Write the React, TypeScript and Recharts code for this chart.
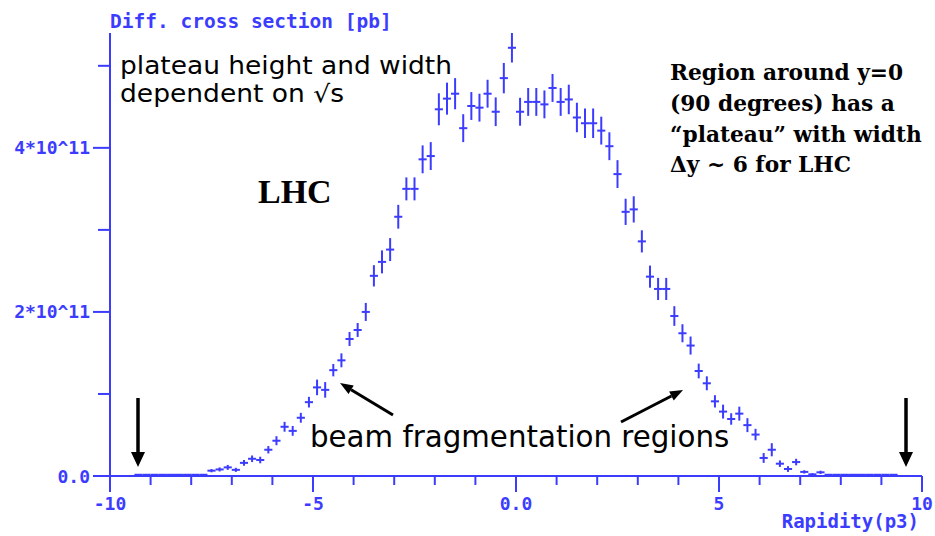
import React from 'react';
import { ScatterChart, Scatter, XAxis, YAxis, ErrorBar } from 'recharts';

// Differential cross section vs rapidity, 0.2-wide bins, values in units of 1e11 pb.
const BIN_WIDTH = 0.2;

const RAPIDITY = [
  -9.3, -9.1, -8.9, -8.7, -8.5, -8.3, -8.1, -7.9, -7.7,
  -7.5, -7.3, -7.1, -6.9, -6.7, -6.5, -6.3, -6.1, -5.9, -5.7,
  -5.5, -5.3, -5.1, -4.9, -4.7, -4.5, -4.3, -4.1, -3.9, -3.7,
  -3.5, -3.3, -3.1, -2.9, -2.7, -2.5, -2.3, -2.1, -1.9, -1.7,
  -1.5, -1.3, -1.1, -0.9, -0.7, -0.5, -0.3, -0.1,
  0.1, 0.3, 0.5, 0.7, 0.9, 1.1, 1.3, 1.5, 1.7, 1.9,
  2.1, 2.3, 2.5, 2.7, 2.9, 3.1, 3.3, 3.5, 3.7, 3.9,
  4.1, 4.3, 4.5, 4.7, 4.9, 5.1, 5.3, 5.5, 5.7, 5.9,
  6.1, 6.3, 6.5, 6.7, 6.9, 7.1, 7.3, 7.5,
  7.7, 7.9, 8.1, 8.3, 8.5, 8.7, 8.9, 9.1, 9.3,
];

const XSEC = [
  0.015, 0.015, 0.015, 0.015, 0.015, 0.015, 0.015, 0.015, 0.015,
  0.065, 0.08, 0.105, 0.075, 0.16, 0.21, 0.195, 0.32, 0.43, 0.6,
  0.55, 0.71, 0.9, 1.08, 1.05, 1.29, 1.41, 1.67, 1.78, 2.0,
  2.44, 2.61, 2.76, 3.16, 3.5, 3.5, 3.86, 3.9, 4.47, 4.6,
  4.66, 4.24, 4.51, 4.49, 4.66, 4.44, 4.85, 5.22,
  4.44, 4.56, 4.56, 4.53, 4.73, 4.56, 4.59, 4.37, 4.3, 4.3,
  4.21, 4.02, 3.68, 3.22, 3.25, 2.86, 2.43, 2.28, 2.28, 1.95,
  1.74, 1.59, 1.28, 1.13, 0.91, 0.785, 0.695, 0.76, 0.62, 0.505,
  0.22, 0.32, 0.15, 0.085, 0.17, 0.05, 0.02, 0.045,
  0.015, 0.015, 0.015, 0.015, 0.015, 0.015, 0.015, 0.015, 0.015,
];

const XSEC_ERR = [
  0, 0, 0, 0, 0, 0, 0, 0, 0,
  0.02, 0.025, 0.03, 0.025, 0.035, 0.04, 0.04, 0.045, 0.055, 0.06,
  0.06, 0.06, 0.065, 0.095, 0.095, 0.075, 0.085, 0.085, 0.085, 0.11,
  0.13, 0.14, 0.14, 0.145, 0.14, 0.14, 0.17, 0.17, 0.195, 0.195,
  0.19, 0.17, 0.17, 0.17, 0.17, 0.175, 0.185, 0.18,
  0.17, 0.17, 0.17, 0.17, 0.17, 0.17, 0.18, 0.18, 0.18, 0.18,
  0.17, 0.17, 0.17, 0.16, 0.16, 0.135, 0.135, 0.135, 0.135, 0.12,
  0.11, 0.11, 0.09, 0.085, 0.075, 0.085, 0.07, 0.085, 0.085, 0.07,
  0.06, 0.08, 0.04, 0.035, 0.04, 0.02, 0.015, 0.02,
  0, 0, 0, 0, 0, 0, 0, 0, 0,
];

const X_TICKS = [-10, -9, -8, -7, -6, -5, -4, -3, -2, -1, 0, 1, 2, 3, 4, 5, 6, 7, 8, 9, 10];
const X_LABELS: Record<number, string> = { [-10]: '-10', [-5]: '-5', 0: '0.0', 5: '5', 10: '10' };
const Y_TICKS = [0, 1, 2, 3, 4, 5];
const Y_LABELS: Record<number, string> = { 0: '0.0', 2: '2*10^11', 4: '4*10^11' };

const BLUE = '#3c3cff';
const MONO = '"DejaVu Sans Mono", "Liberation Mono", monospace';
const HAND = '"Comic Sans MS", "DejaVu Sans", sans-serif';

const rows = RAPIDITY.map((y, i) => ({
  rapidity: y,
  xsec: XSEC[i],
  err: XSEC_ERR[i],
  halfBin: BIN_WIDTH / 2,
}));

const XTick = ({ x, y, payload }: any) => {
  const label = X_LABELS[payload.value];
  const len = label !== undefined ? 16 : 9;
  return (
    <g>
      <line x1={x} x2={x} y1={y} y2={y + len} stroke={BLUE} strokeWidth={2} />
      {label !== undefined && (
        <text x={x} y={y + 27} textAnchor="middle" dominantBaseline="central"
          fill={BLUE} fontFamily={MONO} fontWeight="bold" fontSize={18}>
          {label}
        </text>
      )}
    </g>
  );
};

const YTick = ({ x, y, payload }: any) => {
  const label = Y_LABELS[payload.value];
  const len = label !== undefined ? 17 : 12;
  return (
    <g>
      <line x1={x} x2={x - len} y1={y} y2={y} stroke={BLUE} strokeWidth={2} />
      {label !== undefined && (
        <text x={x - 20} y={y} textAnchor="end" dominantBaseline="central"
          fill={BLUE} fontFamily={MONO} fontWeight="bold" fontSize={18}>
          {label}
        </text>
      )}
    </g>
  );
};

// nothing at the point itself, the two error bars make the cross
const NoDot = () => <g />;

function Arrow({ x1, y1, x2, y2, width, head, headW }: any) {
  const ang = Math.atan2(y2 - y1, x2 - x1);
  const bx = x2 - head * Math.cos(ang);
  const by = y2 - head * Math.sin(ang);
  const px = Math.sin(ang) * headW / 2;
  const py = -Math.cos(ang) * headW / 2;
  return (
    <g>
      <line x1={x1} y1={y1} x2={bx} y2={by} stroke="#000" strokeWidth={width} />
      <polygon points={`${x2},${y2} ${bx + px},${by + py} ${bx - px},${by - py}`} fill="#000" />
    </g>
  );
}

export default function App() {
  return (
    <div style={{ position: 'absolute', left: 0, top: 0, width: 935, height: 536, background: '#fff' }}>
      <ScatterChart width={935} height={536} margin={{ top: 33, right: 13, bottom: 0, left: 0 }}>
        <XAxis
          type="number"
          dataKey="rapidity"
          domain={[-10, 10]}
          ticks={X_TICKS}
          allowDataOverflow
          interval={0}
          height={60}
          tickSize={0}
          tickMargin={0}
          tickLine={false}
          tick={<XTick />}
          axisLine={{ stroke: BLUE, strokeWidth: 2 }}
          label={{
            content: ({ viewBox }: any) => (
              <text x={viewBox.x + viewBox.width - 3} y={viewBox.y + 52} textAnchor="end"
                fill={BLUE} fontFamily={MONO} fontWeight="bold" fontSize={19}>
                Rapidity(p3)
              </text>
            ),
          }}
        />
        <YAxis
          type="number"
          dataKey="xsec"
          domain={[0, 5.4]}
          ticks={Y_TICKS}
          allowDataOverflow
          interval={0}
          width={110}
          tickSize={0}
          tickMargin={0}
          tickLine={false}
          tick={<YTick />}
          axisLine={{ stroke: BLUE, strokeWidth: 2 }}
          label={{
            content: ({ viewBox }: any) => (
              <text x={viewBox.x + viewBox.width} y={viewBox.y - 12} dominantBaseline="central"
                fill={BLUE} fontFamily={MONO} fontWeight="bold" fontSize={19.5}>
                Diff. cross section [pb]
              </text>
            ),
          }}
        />
        <Scatter data={rows} shape={<NoDot />} isAnimationActive={false}>
          <ErrorBar dataKey="err" direction="y" width={0} stroke={BLUE} strokeWidth={2} isAnimationActive={false} />
          <ErrorBar dataKey="halfBin" direction="x" width={0} stroke={BLUE} strokeWidth={2} isAnimationActive={false} />
        </Scatter>
      </ScatterChart>

      <svg width={935} height={536} style={{ position: 'absolute', left: 0, top: 0, pointerEvents: 'none' }}>
        <text x={120} y={73.5} fontFamily={HAND} fontSize={24} fill="#000"
          textLength={332} lengthAdjust="spacingAndGlyphs">
          plateau height and width
        </text>
        <text x={120} y={102} fontFamily={HAND} fontSize={24} fill="#000"
          textLength={224} lengthAdjust="spacingAndGlyphs">
          dependent on √s
        </text>

        <text x={258} y={203} fontFamily='"Liberation Serif", serif' fontWeight="bold" fontSize={34} fill="#000">LHC</text>

        <text x={670} y={80} fontFamily='"DejaVu Serif", serif' fontWeight="bold" fontSize={21.7} fill="#000">
          <tspan x={670}>Region around y=0</tspan>
          <tspan x={670} dy={31}>(90 degrees) has a</tspan>
          <tspan x={670} dy={31}>“plateau” with width</tspan>
          <tspan x={670} dy={30}>Δy ~ 6 for LHC</tspan>
        </text>

        <text x={310} y={447} fontFamily={HAND} fontSize={29.3} fill="#000">beam fragmentation regions</text>

        <Arrow x1={393} y1={415} x2={340} y2={383} width={3} head={13} headW={10} />
        <Arrow x1={621} y1={422} x2={683} y2={390} width={3} head={13} headW={10} />
        <Arrow x1={138} y1={398} x2={138} y2={467} width={3.5} head={15} headW={14} />
        <Arrow x1={906} y1={398} x2={906} y2={467} width={3.5} head={15} headW={14} />
      </svg>
    </div>
  );
}
